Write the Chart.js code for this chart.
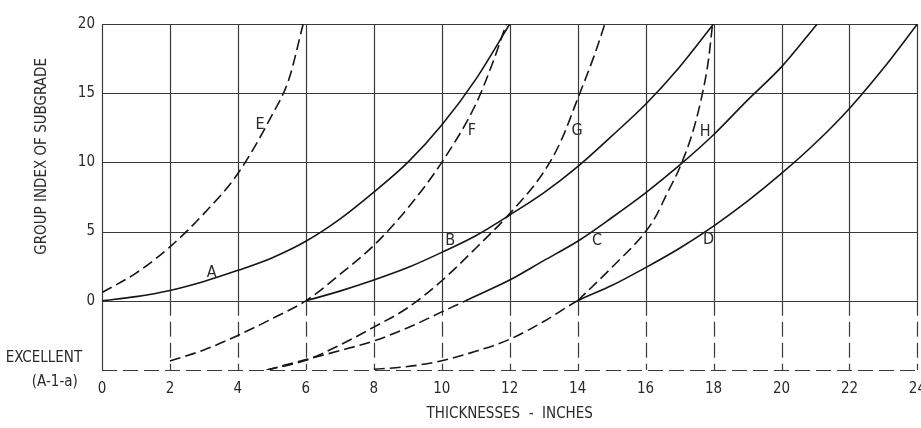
<!DOCTYPE html>
<html>
<head>
<meta charset="utf-8">
<script src="https://cdn.jsdelivr.net/npm/chart.js@4.4.1/dist/chart.umd.min.js"></script>
<style>
html,body{margin:0;padding:0;background:#fff;overflow:hidden;}
#wrap{width:936px;height:428px;position:relative;}
</style>
</head>
<body>
<div id="wrap"><canvas id="chart"></canvas></div>
<script>
/* ==========================================
   DATA
========================================== */

// solid curves
const aX = [0, 1, 2, 3, 4, 5, 6, 7, 8, 9, 10, 11, 12];
const aY = [0, 0.3, 0.75, 1.4, 2.2, 3.1, 4.3, 5.9, 7.85, 10.0, 12.7, 16.0, 20];

const bX = [6, 7, 8, 9, 10, 11, 12, 13, 14, 15, 16, 17, 18];
const bY = [0, 0.7, 1.5, 2.4, 3.5, 4.7, 6.2, 7.8, 9.7, 11.9, 14.2, 16.9, 20];

const cX = [4.85, 6, 7, 8, 9, 10, 10.7, 11, 12, 13, 14, 15, 16, 17, 18, 19, 20, 21.05];
const cY = [-5, -4.25, -3.6, -2.9, -1.95, -0.8, 0, 0.35, 1.5, 2.9, 4.3, 6.0, 7.8, 9.8, 12.0, 14.5, 16.9, 20];

const dX = [8, 9, 10, 11, 12, 13, 14, 15, 16, 17, 18, 19, 20, 21, 22, 23, 24];
const dY = [-4.95, -4.75, -4.33, -3.65, -2.78, -1.5, 0, 1.1, 2.4, 3.8, 5.4, 7.2, 9.2, 11.4, 13.9, 16.8, 20];

// dashed curves
const eX = [0, 1, 2, 3, 4, 5, 5.5, 5.92];
const eY = [0.6, 2.0, 3.9, 6.3, 9.2, 13.4, 16.0, 20];

const fX = [2, 3, 4, 5, 6, 7, 8, 9, 10, 11, 11.5, 11.9];
const fY = [-4.35, -3.55, -2.5, -1.3, 0, 1.9, 4.0, 6.7, 10.0, 14.2, 17.2, 20];

const gX = [4.85, 6, 7, 8, 9, 10, 11, 12, 13, 13.5, 14, 14.5, 14.8];
const gY = [-5, -4.3, -3.2, -1.9, -0.5, 1.45, 3.8, 6.3, 9.3, 11.5, 14.6, 17.8, 20];

const hX = [14, 15, 16, 16.3, 16.6, 17, 17.4, 17.7, 17.85, 17.97];
const hY = [0, 2.4, 5.0, 6.1, 7.6, 9.6, 12.3, 15.3, 17.4, 20];

// curve letters and where they sit (data units)
const curveNames = ["A", "B", "C", "D", "E", "F", "G", "H"];
const nameX = [3.23, 10.25, 14.57, 17.85, 4.65, 10.89, 13.98, 17.75];
const nameY = [2.05, 4.35, 4.35, 4.4, 12.7, 12.3, 12.3, 12.2];

// axes
const xTicks = [0, 2, 4, 6, 8, 10, 12, 14, 16, 18, 20, 22, 24];
const yTicks = [-5, 0, 5, 10, 15, 20];
const yTickText = [["EXCELLENT   ", "(A-1-a)    "], "0", "5", "10", "15", "20"];
const xTitle = "THICKNESSES  -  INCHES";
const yTitle = "GROUP INDEX OF SUBGRADE";


/* ==========================================
   STYLE
========================================== */

const FONT = "'Liberation Sans Narrow', 'DejaVu Sans Condensed', 'Roboto Condensed', sans-serif";
const INK = "#161616";
const TEXT = "#2a2a2a";
const GRID = "#3a3a3a";
const DASH = [11, 5];
const GRID_DASH = [15, 6];

function pts(xs, ys){
    return xs.map((x, i) => ({ x: x, y: ys[i] }));
}

// solid curves go dashed where they run below zero
function curve(name, xs, ys, dashed){
    return {
        label: name,
        data: pts(xs, ys),
        showLine: true,
        borderColor: INK,
        borderWidth: 1.6,
        pointRadius: 0,
        pointHoverRadius: 0,
        cubicInterpolationMode: "monotone",
        borderDash: dashed ? DASH : [],
        segment: dashed ? {} : {
            borderDash: ctx => ctx.p0.parsed.y < 0 ? DASH : undefined
        }
    };
}


/* ==========================================
   PAPER GRID (solid above 0, dashed below)
========================================== */

const paperGrid = {
    id: "paperGrid",
    beforeDatasetsDraw(chart){
        const { ctx, scales: { x, y } } = chart;
        const y0 = y.getPixelForValue(0);
        const yTop = y.getPixelForValue(yTicks[yTicks.length - 1]);
        const yBot = y.getPixelForValue(yTicks[0]);

        const seg = (x1, y1, x2, y2) => {
            ctx.beginPath();
            ctx.moveTo(x1, y1);
            ctx.lineTo(x2, y2);
            ctx.stroke();
        };

        ctx.save();
        ctx.strokeStyle = GRID;
        ctx.lineWidth = 1.2;

        x.ticks.forEach(t => {
            const px = Math.round(x.getPixelForValue(t.value)) + 0.5;
            ctx.setLineDash([]);
            seg(px, yTop, px, t.value === xTicks[0] ? yBot : y0);
            if (t.value !== xTicks[0]) {
                ctx.setLineDash(GRID_DASH);
                seg(px, y0, px, yBot);
            }
        });

        y.ticks.forEach(t => {
            const py = Math.round(y.getPixelForValue(t.value)) + 0.5;
            ctx.setLineDash(t.value < 0 ? GRID_DASH : []);
            seg(x.left, py, x.right, py);
        });

        ctx.restore();
    }
};


/* ==========================================
   CURVE LETTERS + SIDE TITLE
========================================== */

const letters = {
    id: "letters",
    afterDatasetsDraw(chart){
        const { ctx, scales: { x, y } } = chart;
        ctx.save();
        ctx.fillStyle = TEXT;
        ctx.font = "16px " + FONT;
        ctx.textAlign = "center";
        ctx.textBaseline = "middle";
        curveNames.forEach((n, i) => {
            ctx.fillText(n, x.getPixelForValue(nameX[i]), y.getPixelForValue(nameY[i]));
        });

        // axis title sits against the 0-20 part of the scale only
        ctx.font = "15px " + FONT;
        const mid = (y.getPixelForValue(0) + y.getPixelForValue(20)) / 2 - 6;
        ctx.translate(42, mid);
        ctx.rotate(-Math.PI / 2);
        ctx.fillText(yTitle, 0, 0);
        ctx.restore();
    }
};


/* ==========================================
   CHART
========================================== */

new Chart(document.getElementById("chart"), {

    type: "scatter",

    data: {
        datasets: [
            curve("A", aX, aY, false),
            curve("B", bX, bY, false),
            curve("C", cX, cY, false),
            curve("D", dX, dY, false),
            curve("E", eX, eY, true),
            curve("F", fX, fY, true),
            curve("G", gX, gY, true),
            curve("H", hX, hY, true)
        ]
    },

    options: {
        responsive: true,
        maintainAspectRatio: false,
        animation: false,
        layout: { padding: { top: 24, left: 0, right: 0, bottom: 0 } },
        plugins: {
            legend: { display: false },
            tooltip: { enabled: false }
        },
        scales: {
            x: {
                type: "linear",
                min: xTicks[0],
                max: xTicks[xTicks.length - 1],
                afterBuildTicks: s => { s.ticks = xTicks.map(v => ({ value: v })); },
                afterFit: s => { s.height = 58; },
                grid: { display: false, drawTicks: false },
                border: { display: false },
                ticks: {
                    color: TEXT,
                    padding: 10,
                    maxRotation: 0,
                    font: { family: FONT, size: 15 }
                },
                title: {
                    display: true,
                    text: xTitle,
                    color: TEXT,
                    padding: { top: 0, bottom: 5 },
                    font: { family: FONT, size: 15 }
                }
            },
            y: {
                type: "linear",
                min: yTicks[0],
                max: yTicks[yTicks.length - 1],
                afterBuildTicks: s => { s.ticks = yTicks.map(v => ({ value: v })); },
                afterFit: s => { s.width = 102; },
                grid: { display: false, drawTicks: false },
                border: { display: false },
                ticks: {
                    color: TEXT,
                    padding: 7,
                    font: { family: FONT, size: 15, lineHeight: 1.55 },
                    callback: v => yTickText[yTicks.indexOf(v)]
                }
            }
        }
    },

    plugins: [paperGrid, letters]

});
</script>
</body>
</html>
